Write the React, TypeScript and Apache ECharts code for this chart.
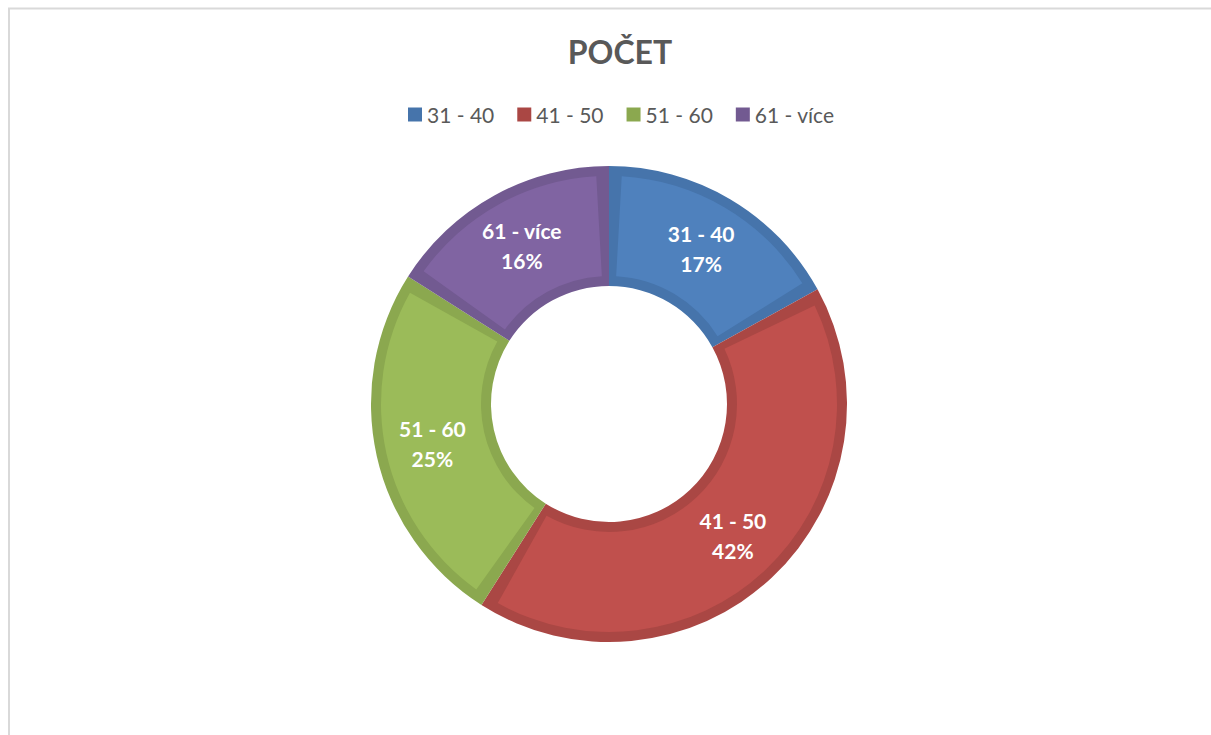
import React, { useEffect, useRef } from "react";
import * as echarts from "echarts";

const categories = ["31 - 40", "41 - 50", "51 - 60", "61 - více"];
const values = [17, 42, 25, 16];
const fillColors = ["#4F81BD", "#C0504D", "#9BBB59", "#8064A2"];
const edgeColors = ["#4674AB", "#AA4744", "#8BA84F", "#725A91"];
const titleText = "POČET";

export default function App() {
  const ref = useRef<HTMLDivElement>(null);
  useEffect(() => {
    const chart = echarts.init(ref.current!, undefined, { renderer: "svg" });
    const font = "Lato, 'Open Sans', sans-serif";
    chart.setOption({
      animation: false,
      backgroundColor: "#ffffff",
      title: {
        text: titleText,
        left: 615,
        textAlign: "center",
        top: 30,
        textStyle: { fontFamily: font, fontSize: 32, fontWeight: "bold", color: "#595959" },
      },
      legend: {
        data: categories,
        left: 403,
        top: 99,
        icon: "rect",
        itemWidth: 14,
        itemHeight: 14,
        itemGap: 23,
        textStyle: { fontFamily: font, fontSize: 21, color: "#595959" },
      },
      graphic: [
        {
          type: "rect",
          shape: { x: 9, y: 8.5, width: 1400, height: 900 },
          style: { fill: "none", stroke: "#d9d9d9", lineWidth: 2 },
          silent: true,
        },
      ],
      series: [
        {
          type: "pie",
          name: "edge",
          center: [609, 404],
          radius: [118, 238],
          startAngle: 90,
          clockwise: true,
          silent: true,
          label: { show: false },
          labelLine: { show: false },
          data: categories.map((c, i) => ({
            name: c,
            value: values[i],
            itemStyle: { color: edgeColors[i] },
          })),
        },
        {
          type: "pie",
          name: "fill",
          center: [609, 404],
          radius: [128, 228],
          startAngle: 90,
          clockwise: true,
          padAngle: 6.4,
          silent: true,
          label: {
            show: true,
            position: "inside",
            formatter: "{b}\n{c}%",
            color: "#ffffff",
            fontFamily: font,
            fontWeight: "bold",
            fontSize: 21,
            lineHeight: 30,
          },
          labelLine: { show: false },
          data: categories.map((c, i) => ({
            name: c,
            value: values[i],
            itemStyle: { color: fillColors[i] },
          })),
        },
      ],
    });
    return () => chart.dispose();
  }, []);
  return (
    <div
      style={{
        position: "fixed",
        left: 0,
        top: 0,
        width: 1211,
        height: 735,
        overflow: "hidden",
        background: "#fff",
      }}
    >
      <div ref={ref} style={{ width: 1211, height: 735 }} />
    </div>
  );
}
